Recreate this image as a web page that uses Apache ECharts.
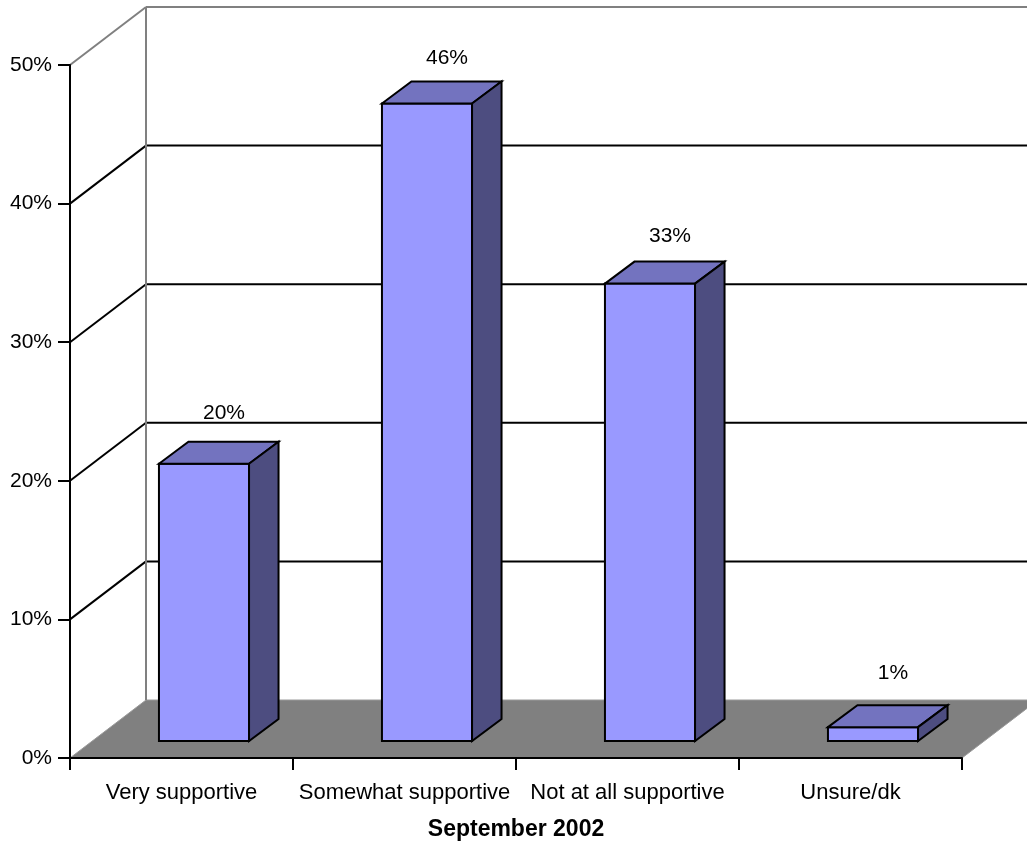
<!DOCTYPE html>
<html>
<head>
<meta charset="utf-8">
<script src="https://cdn.jsdelivr.net/npm/echarts@6/dist/echarts.min.js"></script>
<style>
html,body{margin:0;padding:0;background:#fff;}
#chart{width:1027px;height:842px;}
</style>
</head>
<body>
<div id="chart"></div>
<script>
// ---- data ----
const categories = ['Very supportive', 'Somewhat supportive', 'Not at all supportive', 'Unsure/dk'];
const values = [20, 46, 33, 1];
const yTicks = [0, 10, 20, 30, 40, 50];
const axisTitle = 'September 2002';

// ---- layout / style constants ----
const FONT = "'Liberation Sans', Arial, sans-serif";
const DEPTH_DX = 76, DEPTH_DY = -58;     // full floor depth
const FRONT_DX = 22.5, FRONT_DY = -17;   // bar front plane
const BAR_DX = 29.5, BAR_DY = -22;       // bar depth
const BAR_W_FRAC = 0.404;
const LABEL_SCALE = 0.9856, LABEL_OFF = -71.3, LABEL_DX = 20;

const chart = echarts.init(document.getElementById('chart'), null, {renderer: 'canvas'});

function floorItem(params, api) {
  const cs = params.coordSys;
  const y0 = api.coord([0, 0])[1];
  const xa = cs.x, xb = cs.x + cs.width;
  return {
    type: 'polygon',
    shape: {points: [[xa, y0], [xa + DEPTH_DX, y0 + DEPTH_DY], [xb + DEPTH_DX, y0 + DEPTH_DY], [xb, y0]]},
    style: {fill: '#808080', stroke: '#9a9a9a', lineWidth: 1}
  };
}

function wallItem(params, api) {
  const cs = params.coordSys;
  const t = api.value(1);
  const y = api.coord([0, t])[1];
  const xa = cs.x, xb = cs.x + cs.width;
  const isTop = t === yTicks[yTicks.length - 1];
  const isBottom = t === yTicks[0];
  const col = isTop ? '#808080' : '#000';
  const children = [];
  if (!isBottom) {
    children.push({type: 'line', shape: {x1: xa, y1: y, x2: xa + DEPTH_DX, y2: y + DEPTH_DY},
      style: {stroke: col, lineWidth: 2}});
    children.push({type: 'line', shape: {x1: xa + DEPTH_DX, y1: y + DEPTH_DY, x2: xb + DEPTH_DX, y2: y + DEPTH_DY},
      style: {stroke: col, lineWidth: 2}});
  }
  if (isTop) {
    const y0 = api.coord([0, yTicks[0]])[1];
    children.push({type: 'line', shape: {x1: xa + DEPTH_DX, y1: y0 + DEPTH_DY, x2: xa + DEPTH_DX, y2: y + DEPTH_DY},
      style: {stroke: '#808080', lineWidth: 2}});
  }
  return {type: 'group', children};
}

function barItem(params, api) {
  const i = api.value(0), v = api.value(1);
  const top = api.coord([i, v]);
  const base = api.coord([i, 0]);
  const w = api.size([1, 0])[0] * BAR_W_FRAC;
  const cx = top[0] + FRONT_DX;
  const x0 = cx - w / 2, x1 = cx + w / 2;
  const yT = top[1] + FRONT_DY, yB = base[1] + FRONT_DY;
  const lab = api.coord([i, v * LABEL_SCALE])[1] + LABEL_OFF;
  const st = {stroke: '#000', lineWidth: 2, lineJoin: 'miter'};
  return {
    type: 'group',
    children: [
      {type: 'polygon', shape: {points: [[x0, yT], [x1, yT], [x1, yB], [x0, yB]]},
        style: Object.assign({fill: '#9999FF'}, st)},
      {type: 'polygon', shape: {points: [[x0, yT], [x0 + BAR_DX, yT + BAR_DY], [x1 + BAR_DX, yT + BAR_DY], [x1, yT]]},
        style: Object.assign({fill: '#7373BF'}, st)},
      {type: 'polygon', shape: {points: [[x1, yT], [x1 + BAR_DX, yT + BAR_DY], [x1 + BAR_DX, yB + BAR_DY], [x1, yB]]},
        style: Object.assign({fill: '#4D4D80'}, st)},
      {type: 'text', x: cx + LABEL_DX, y: lab,
        style: {text: v + '%', fill: '#000', font: '21px ' + FONT, align: 'center', verticalAlign: 'middle'}}
    ]
  };
}

chart.setOption({
  animation: false,
  grid: {left: 70, right: 65, top: 65, bottom: 84, containLabel: false, outerBoundsMode: 'none'},
  xAxis: {
    type: 'category',
    data: categories,
    z: 10,
    boundaryGap: true,
    axisLine: {show: true, lineStyle: {color: '#000', width: 2}},
    axisTick: {show: true, length: 12, lineStyle: {color: '#000', width: 2}},
    axisLabel: {interval: 0, margin: 24, color: '#000', fontSize: 22, fontFamily: FONT},
    name: axisTitle,
    nameLocation: 'middle',
    nameGap: 60,
    nameTextStyle: {color: '#000', fontSize: 23, fontWeight: 'bold', fontFamily: FONT}
  },
  yAxis: {
    type: 'value',
    min: 0, max: 50, interval: 10,
    z: 10,
    axisLine: {show: true, lineStyle: {color: '#000', width: 2}},
    axisTick: {show: true, length: 12, lineStyle: {color: '#000', width: 2}},
    axisLabel: {margin: 18, color: '#000', fontSize: 21, fontFamily: FONT, formatter: '{value}%'},
    splitLine: {show: false}
  },
  series: [
    {type: 'custom', z: 1, renderItem: floorItem, data: [[0, 0]], silent: true, clip: false},
    {type: 'custom', z: 2, renderItem: wallItem, data: yTicks.map(t => [0, t]), silent: true, clip: false},
    {type: 'custom', z: 3, renderItem: barItem, data: values.map((v, i) => [i, v]), clip: false}
  ]
});
</script>
</body>
</html>
